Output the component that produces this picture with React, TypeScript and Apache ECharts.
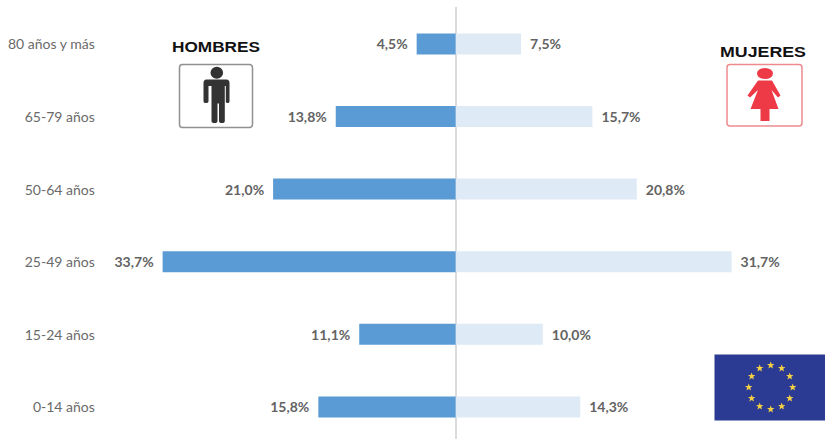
import React, { useEffect, useRef } from "react";
import * as echarts from "echarts";

const categories = ["0-14 años", "15-24 años", "25-49 años", "50-64 años", "65-79 años", "80 años y más"];
const hombres = [15.8, 11.1, 33.7, 21.0, 13.8, 4.5];
const mujeres = [14.3, 10.0, 31.7, 20.8, 15.7, 7.5];

const manPath =
  "M210.5 72.7a6.3 6 0 1 1 12.6 0a6.3 6 0 1 1 -12.6 0Z" +
  "M206.5 79.5H226.5Q229.5 79.5 229.5 83V101.5Q229.5 103 227.5 103Q225.8 103 225.8 101.5V86H224.8V121Q224.8 123 222 123Q219 123 219 121V103.5H217.5V121Q217.5 123 214.5 123Q211.5 123 211.5 121V86H208.5V101.5Q208.5 103 206 103Q203.5 103 203.5 101.5V83Q203.5 79.5 206.5 79.5Z";
const womanPath =
  "M757 73.5a8 5.5 0 1 1 16 0a8 5.5 0 1 1 -16 0Z" +
  "M758 80.5H772L780.5 95.5L778 97.5L771.5 90L778.5 109H769.5V121H760.5V109H750.5L758 90L750 97.5L747.5 95.5Z";

function starPoints(cx: number, cy: number, R: number) {
  const pts: number[][] = [];
  for (let i = 0; i < 10; i++) {
    const a = -Math.PI / 2 + (i * Math.PI) / 5;
    const r = i % 2 === 0 ? R : R * 0.42;
    pts.push([cx + r * Math.cos(a), cy + r * Math.sin(a)]);
  }
  return pts;
}

const fmt = (v: number) => Math.abs(v).toFixed(1).replace(".", ",") + "%";

export default function App() {
  const ref = useRef<HTMLDivElement>(null);
  useEffect(() => {
    document.body.style.margin = "0";
    echarts.graphic.registerShape("manIcon", echarts.graphic.extendPath(manPath, {}));
    echarts.graphic.registerShape("womanIcon", echarts.graphic.extendPath(womanPath, {}));
    const chart = echarts.init(ref.current!, null, { renderer: "svg" });
    const labelStyle = { fontFamily: "Lato", fontSize: 14, fontWeight: "bold", color: "#636363", distance: 9, formatter: (p: any) => fmt(p.value) };
    const stars = Array.from({ length: 12 }, (_, i) => {
      const a = (i * Math.PI) / 6;
      return {
        type: "polygon",
        shape: { points: starPoints(770.7 + 22 * Math.sin(a), 387.3 - 22 * Math.cos(a), 3.9) },
        style: { fill: "#f2cf45" },
      };
    });
    chart.setOption({
      animation: false,
      backgroundColor: "#ffffff",
      grid: { left: 107.8, width: 696, top: 7.6, height: 435.6, containLabel: false },
      xAxis: { type: "value", min: -40, max: 40, show: false },
      yAxis: {
        type: "category",
        data: categories,
        axisLine: { show: true, onZero: true, lineStyle: { color: "#d6d6d6", width: 1.75 } },
        axisTick: { show: false },
        axisLabel: { fontFamily: "Lato", fontSize: 14, color: "#6a6a6a", margin: 13 },
      },
      series: [
        {
          name: "Hombres",
          type: "bar",
          stack: "t",
          barWidth: 21,
          data: hombres.map((v) => -v),
          itemStyle: { color: "#5b9bd5" },
          label: { show: true, position: "left", ...labelStyle },
        },
        {
          name: "Mujeres",
          type: "bar",
          stack: "t",
          barWidth: 21,
          data: mujeres,
          itemStyle: { color: "#deeaf6" },
          label: { show: true, position: "right", ...labelStyle },
        },
      ],
      graphic: [
        { type: "text", x: 172, y: 40, scaleX: 1.23, style: { text: "HOMBRES", fontFamily: "Liberation Sans", fontWeight: "bold", fontSize: 14, fill: "#111111" } },
        { type: "rect", shape: { x: 179.5, y: 64.5, width: 73, height: 63, r: 3 }, style: { fill: "#ffffff", stroke: "#909090", lineWidth: 1.5 } },
        { type: "manIcon", x: 0, y: 0, style: { fill: "#333333" } },
        { type: "text", x: 720, y: 45, scaleX: 1.27, style: { text: "MUJERES", fontFamily: "Liberation Sans", fontWeight: "bold", fontSize: 14, fill: "#111111" } },
        { type: "rect", shape: { x: 727, y: 64.5, width: 75, height: 61.5, r: 3 }, style: { fill: "#ffffff", stroke: "#ee8a8f", lineWidth: 1.5 } },
        { type: "womanIcon", x: 0, y: 0, style: { fill: "#ee3a46" } },
        { type: "rect", shape: { x: 714.5, y: 354.5, width: 110.5, height: 66 }, style: { fill: "#2b3a92" } },
        ...stars,
      ],
    });
    return () => chart.dispose();
  }, []);
  return (
    <div style={{ width: 825, height: 439, overflow: "hidden" }}>
      <div ref={ref} style={{ width: 825, height: 455 }} />
    </div>
  );
}
